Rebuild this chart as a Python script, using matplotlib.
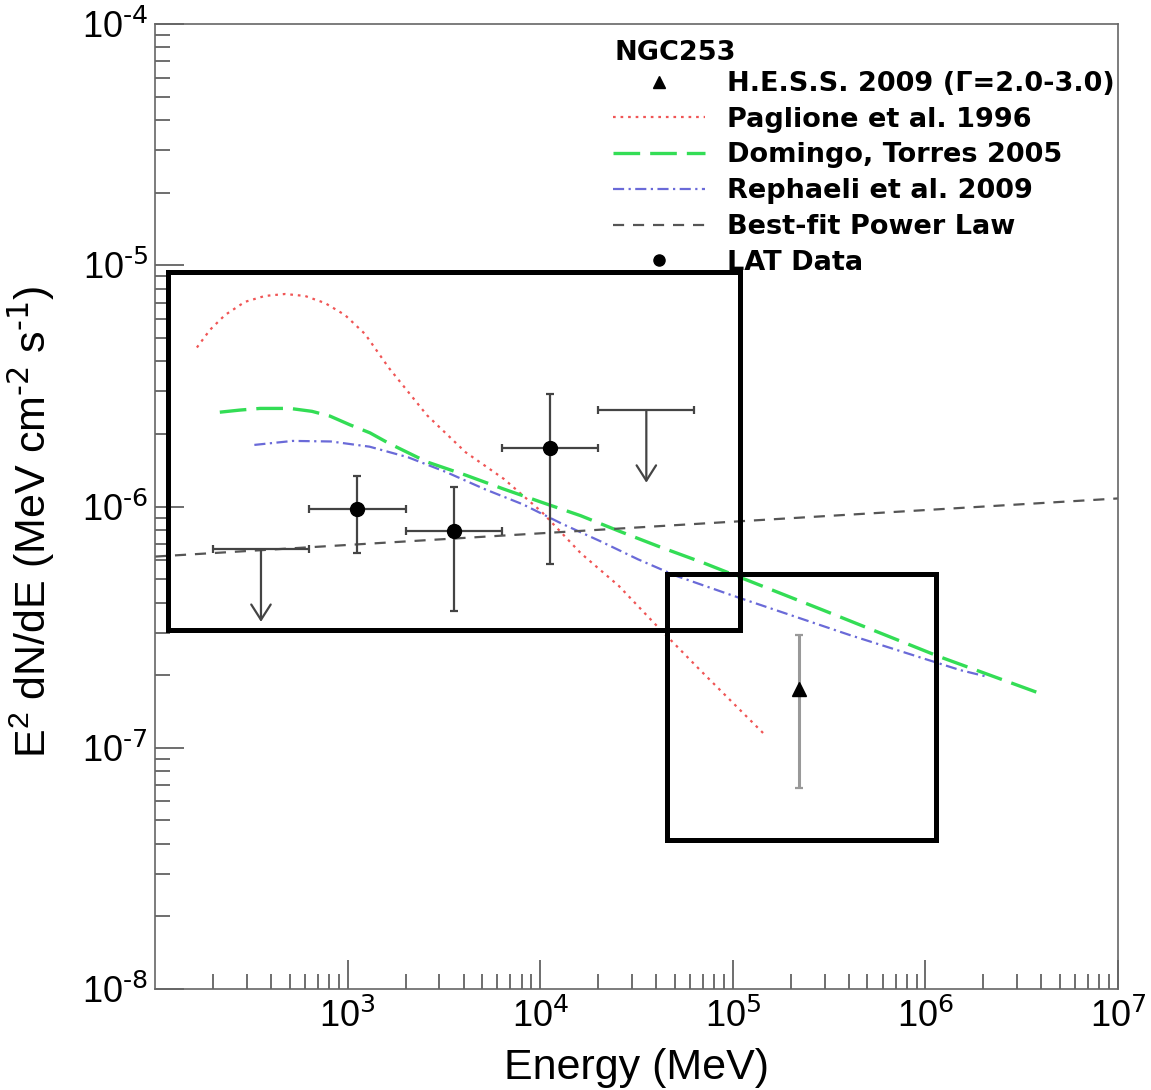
import matplotlib
matplotlib.use("Agg")
import matplotlib.pyplot as plt
from matplotlib.lines import Line2D
from matplotlib.patches import Rectangle
from matplotlib.ticker import LogLocator, NullFormatter, FixedLocator, FuncFormatter
import numpy as np

plt.rcParams['font.family'] = ['Liberation Sans', 'DejaVu Sans']
plt.rcParams['mathtext.default'] = 'regular'
plt.rcParams['axes.unicode_minus'] = False

# Fermi LAT spectral points (MeV, MeV cm^-2 s^-1)
lat_e = [1124, 3556, 11247]
lat_e_lo = [632, 2000, 6325]
lat_e_hi = [2000, 6325, 20000]
lat_flux = [9.8e-7, 7.9e-7, 1.74e-6]
lat_flux_lo = [6.4e-7, 3.7e-7, 5.8e-7]
lat_flux_hi = [1.34e-6, 1.2e-6, 2.92e-6]

# LAT upper limits
ul_e = [355, 35566]
ul_e_lo = [200, 20000]
ul_e_hi = [632, 63246]
ul_flux = [6.65e-7, 2.51e-6]

# H.E.S.S. point
hess_e = [2.2e5]
hess_flux = [1.76e-7]
hess_flux_lo = [6.8e-8]
hess_flux_hi = [2.93e-7]

# model curves
pag_e = [165, 193, 231, 293, 372, 473, 601, 764, 969, 1231, 1640, 2583,
         4093, 6487, 10210, 16220, 25640, 39000, 67600, 1.47e5]
pag_f = [4.56e-6, 5.40e-6, 6.22e-6, 7.05e-6, 7.46e-6, 7.60e-6, 7.46e-6,
         6.97e-6, 6.22e-6, 5.19e-6, 3.75e-6, 2.39e-6, 1.68e-6, 1.30e-6,
         9.48e-7, 6.41e-7, 4.68e-7, 3.29e-7, 2.10e-7, 1.13e-7]

dom_e = [217, 276, 351, 502, 653, 810, 1029, 1306, 1633, 2583, 4093, 6487,
         10210, 16220, 25640, 40640, 70400, 2.94e5, 1.19e6, 3.85e6]
dom_f = [2.46e-6, 2.51e-6, 2.55e-6, 2.55e-6, 2.48e-6, 2.37e-6, 2.18e-6,
         2.02e-6, 1.83e-6, 1.53e-6, 1.35e-6, 1.18e-6, 1.04e-6, 9.16e-7,
         7.91e-7, 6.86e-7, 5.84e-7, 3.72e-7, 2.38e-7, 1.69e-7]

rep_e = [328, 519, 820, 1300, 2059, 3243, 5152, 8147, 12900, 20440, 32200,
         51050, 1.01e5, 4.06e5, 1.51e6, 2.04e6]
rep_f = [1.80e-6, 1.87e-6, 1.86e-6, 1.77e-6, 1.60e-6, 1.39e-6, 1.18e-6,
         1.02e-6, 8.50e-7, 7.19e-7, 6.04e-7, 5.15e-7, 4.26e-7, 2.93e-7,
         2.10e-7, 1.98e-7]

pl_e = [1e2, 1e7]
pl_f = [6.2e-7, 1.08e-6]

fig = plt.figure(figsize=(11.51, 10.90), dpi=100)
ax = fig.add_axes([155/1151, 1 - 989/1090, 963/1151, 965/1090])
ax.set_xscale('log')
ax.set_yscale('log')
ax.set_xlim(1e2, 1e7)
ax.set_ylim(1e-8, 1e-4)

ax.plot(pag_e, pag_f, color='#f05555', lw=1.6, ls=(0, (1.2, 2.2)),
        label='Paglione et al. 1996')
ax.plot(dom_e, dom_f, color='#33dd55', lw=2.4, ls=(0, (8, 3)),
        label='Domingo, Torres 2005')
ax.plot(rep_e, rep_f, color='#6a6ad8', lw=1.6, ls=(0, (5, 2, 1, 2)),
        label='Rephaeli et al. 2009')
ax.plot(pl_e, pl_f, color='#555555', lw=1.6, ls=(0, (5, 4)),
        label='Best-fit Power Law')

# LAT points with error bars
lat_e = np.array(lat_e)
lat_flux = np.array(lat_flux)
xerr = [lat_e - np.array(lat_e_lo), np.array(lat_e_hi) - lat_e]
yerr = [lat_flux - np.array(lat_flux_lo), np.array(lat_flux_hi) - lat_flux]
ax.errorbar(lat_e, lat_flux, xerr=xerr, yerr=yerr, fmt='o', color='black',
            ms=10, ecolor='#444444', elinewidth=1.6, capsize=3, capthick=1.6)

# upper limits: bin bar plus downward arrow
ul_e = np.array(ul_e)
ul_flux = np.array(ul_flux)
ax.errorbar(ul_e, ul_flux,
            xerr=[ul_e - np.array(ul_e_lo), np.array(ul_e_hi) - ul_e],
            fmt='none', ecolor='#444444', elinewidth=1.6, capsize=3,
            capthick=1.6)
for e, f in zip(ul_e, ul_flux):
    ax.annotate('', xy=(e, f * 0.5), xytext=(e, f),
                arrowprops=dict(arrowstyle='->,head_length=0.55,head_width=0.35',
                                color='#444444', lw=1.6, shrinkA=0, shrinkB=0,
                                mutation_scale=20))

# H.E.S.S. point
hess_e = np.array(hess_e)
hess_flux = np.array(hess_flux)
ax.errorbar(hess_e, hess_flux,
            yerr=[hess_flux - np.array(hess_flux_lo),
                  np.array(hess_flux_hi) - hess_flux],
            fmt='^', color='black', ms=10, ecolor='#999999',
            elinewidth=2.2, capsize=3, capthick=1.6)

# highlight boxes
ax.add_patch(Rectangle((116.8, 3.08e-7), 1.09e5 - 116.8, 9.37e-6 - 3.08e-7,
                       fill=False, ec='black', lw=3.6, zorder=10))
ax.add_patch(Rectangle((4.55e4, 4.15e-8), 1.14e6 - 4.55e4, 5.25e-7 - 4.15e-8,
                       fill=False, ec='black', lw=3.6, zorder=10))


def pow10(v, pos):
    n = int(round(np.log10(v)))
    return r'$10^{\text{%d}}$' % n


ax.xaxis.set_major_locator(FixedLocator([1e3, 1e4, 1e5, 1e6, 1e7]))
ax.xaxis.set_minor_locator(LogLocator(base=10, subs=np.arange(2, 10), numticks=20))
ax.yaxis.set_major_locator(LogLocator(base=10, numticks=20))
ax.yaxis.set_minor_locator(LogLocator(base=10, subs=np.arange(2, 10), numticks=20))
ax.xaxis.set_major_formatter(FuncFormatter(pow10))
ax.yaxis.set_major_formatter(FuncFormatter(pow10))
ax.xaxis.set_minor_formatter(NullFormatter())
ax.yaxis.set_minor_formatter(NullFormatter())

ax.tick_params(which='both', direction='in', top=False, right=False,
               color='#555555', width=1.2)
ax.tick_params(which='major', length=21, labelsize=26, pad=5)
ax.tick_params(which='minor', length=10.5)
ax.tick_params(axis='x', which='major', pad=7)
for s in ax.spines.values():
    s.set_color('#666666')
    s.set_linewidth(1.2)

ax.set_xlabel('Energy (MeV)', fontsize=31)
ax.xaxis.set_label_coords(0.5, -0.082)
ax.xaxis.label.set_va('center')
ax.set_ylabel(r'E$^{2}$ dN/dE (MeV cm$^{\text{-2}}$ s$^{\text{-1}}$)', fontsize=31)
ax.yaxis.set_label_coords(-0.128, 0.484)
ax.yaxis.label.set_va('center')

h = ax.get_legend_handles_labels()[0]
hess_h = Line2D([], [], ls='none', marker='^', color='black', ms=9)
lat_h = Line2D([], [], ls='none', marker='o', color='black', ms=8)
handles = [hess_h] + h + [lat_h]
labels = ['H.E.S.S. 2009 (\u0393=2.0-3.0)', 'Paglione et al. 1996',
          'Domingo, Torres 2005', 'Rephaeli et al. 2009',
          'Best-fit Power Law', 'LAT Data']
leg_font = {'family': 'DejaVu Sans', 'weight': 'bold', 'size': 19.5}
leg = ax.legend(handles, labels, loc='upper left',
                bbox_to_anchor=(613/1151, 1 - 71/1090),
                bbox_transform=fig.transFigure, frameon=False,
                prop=leg_font, handlelength=3.4, handletextpad=0.8,
                labelspacing=0.36, borderpad=0, borderaxespad=0)
fig.text(614/1151, 1 - 53/1090, 'NGC253', ha='left', va='center', **leg_font)

fig.savefig('out.png', dpi=100)
